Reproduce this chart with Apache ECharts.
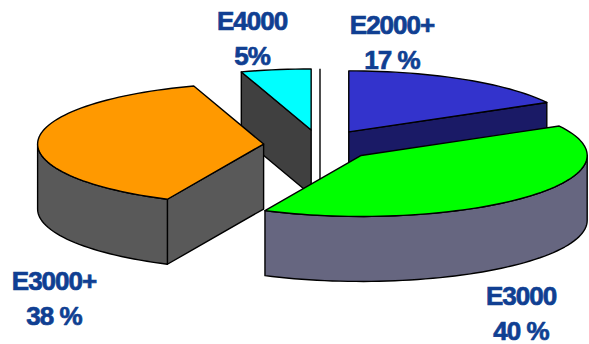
<!DOCTYPE html>
<html>
<head>
<meta charset="utf-8">
<style>
  html, body { margin: 0; padding: 0; background: #fff; }
  #chart { width: 589px; height: 344px; }
  #chart text { letter-spacing: -1px; }
</style>
<script src="https://cdn.jsdelivr.net/npm/echarts@6/dist/echarts.min.js"></script>
</head>
<body>
<div id="chart"></div>
<script>
// Market share by class, drawn as an exploded tilted pie.
const categories = ['E2000+', 'E3000', 'E3000+', 'E4000'];
const shares = [17, 40, 38, 5];
const shareLabels = ['17 %', '40 %', '38 %', '5%'];

// Projection of the disc onto the page.
const disc = { cx: 320, cy: 145, rx: 226, ry: 61, depth: 65, explode: 0.25 };

const topColors = ['#3333cc', '#00ff00', '#ff9900', '#00ffff'];
const wallColors = ['#1a1a66', '#666680', '#595959', '#404040'];
// Back slices are painted first so nearer ones cover them.
const paintRank = [1, 3, 2, 0];
// Horizontal centre and vertical middles of each two-line caption.
const captionAnchors = [
  { x: 392, y: [25, 60] },
  { x: 521, y: [296, 331] },
  { x: 54, y: [281, 316] },
  { x: 252, y: [21, 56] }
];

const total = shares.reduce((a, b) => a + b, 0);
const rad = d => d * Math.PI / 180;
const stroke = { stroke: '#000', lineWidth: 1.4, lineJoin: 'round' };

function rim(o, deg) {
  const t = rad(deg);
  return [o[0] + disc.rx * Math.sin(t), o[1] - disc.ry * Math.cos(t)];
}
function lowered(p) { return [p[0], p[1] + disc.depth]; }
function arc(o, from, to) {
  const pts = [];
  const steps = Math.max(2, Math.ceil((to - from) / 2));
  for (let i = 0; i <= steps; i++) pts.push(rim(o, from + (to - from) * i / steps));
  return pts;
}
function poly(points, fill, z2) {
  return { type: 'polygon', z2, shape: { points }, style: Object.assign({ fill }, stroke) };
}

function renderSlice(params, api) {
  const i = api.value(0);
  const value = api.value(1);
  let before = 0;
  for (let k = 0; k < i; k++) before += shares[k];
  const from = before / total * 360;
  const to = (before + value) / total * 360;
  const mid = rad((from + to) / 2);
  const o = [
    disc.cx + disc.explode * disc.rx * Math.sin(mid),
    disc.cy - disc.explode * disc.ry * Math.cos(mid)
  ];
  const base = paintRank[i] * 10 + 1;
  const wall = wallColors[i];
  const children = [];

  // Radial walls face the viewer only on one side of the disc.
  if (Math.sin(rad(from)) < -1e-6) {
    const p = rim(o, from);
    children.push(poly([o, p, lowered(p), lowered(o)], wall, base));
  }
  if (Math.sin(rad(to)) > 1e-6) {
    const p = rim(o, to);
    children.push(poly([o, p, lowered(p), lowered(o)], wall, base));
  }
  // Outer wall: only the front half of the rim is visible.
  const a0 = Math.max(from, 90);
  const a1 = Math.min(to, 270);
  if (a1 > a0) {
    const top = arc(o, a0, a1);
    children.push(poly(top.concat(top.map(lowered).reverse()), wall, base + 1));
  }
  // Top face.
  children.push(poly([o].concat(arc(o, from, to)), topColors[i], base + 2));

  const anchor = captionAnchors[i];
  [categories[i], shareLabels[i]].forEach((line, n) => {
    children.push({
      type: 'text',
      z2: 100,
      style: {
        text: line,
        x: anchor.x,
        y: anchor.y[n],
        align: 'center',
        verticalAlign: 'middle',
        font: 'bold 26px "Liberation Sans", Arial, sans-serif',
        fill: '#103f92',
        stroke: '#103f92',
        lineWidth: 0.7
      }
    });
  });

  // Thin divider behind the nearest slice, running down from the top of the pie.
  if (i === 1) {
    children.push({
      type: 'line',
      z2: base - 1,
      shape: {
        x1: disc.cx, y1: disc.cy - disc.ry * (1 + disc.explode),
        x2: disc.cx, y2: disc.cy + disc.ry
      },
      style: { stroke: '#000', lineWidth: 1.4 }
    });
  }
  return { type: 'group', children };
}

const chart = echarts.init(document.getElementById('chart'), null, { renderer: 'svg' });
chart.setOption({
  animation: false,
  backgroundColor: '#fff',
  series: [{
    type: 'custom',
    coordinateSystem: 'none',
    renderItem: renderSlice,
    silent: true,
    data: shares.map((v, i) => [i, v])
  }]
});
</script>
</body>
</html>
